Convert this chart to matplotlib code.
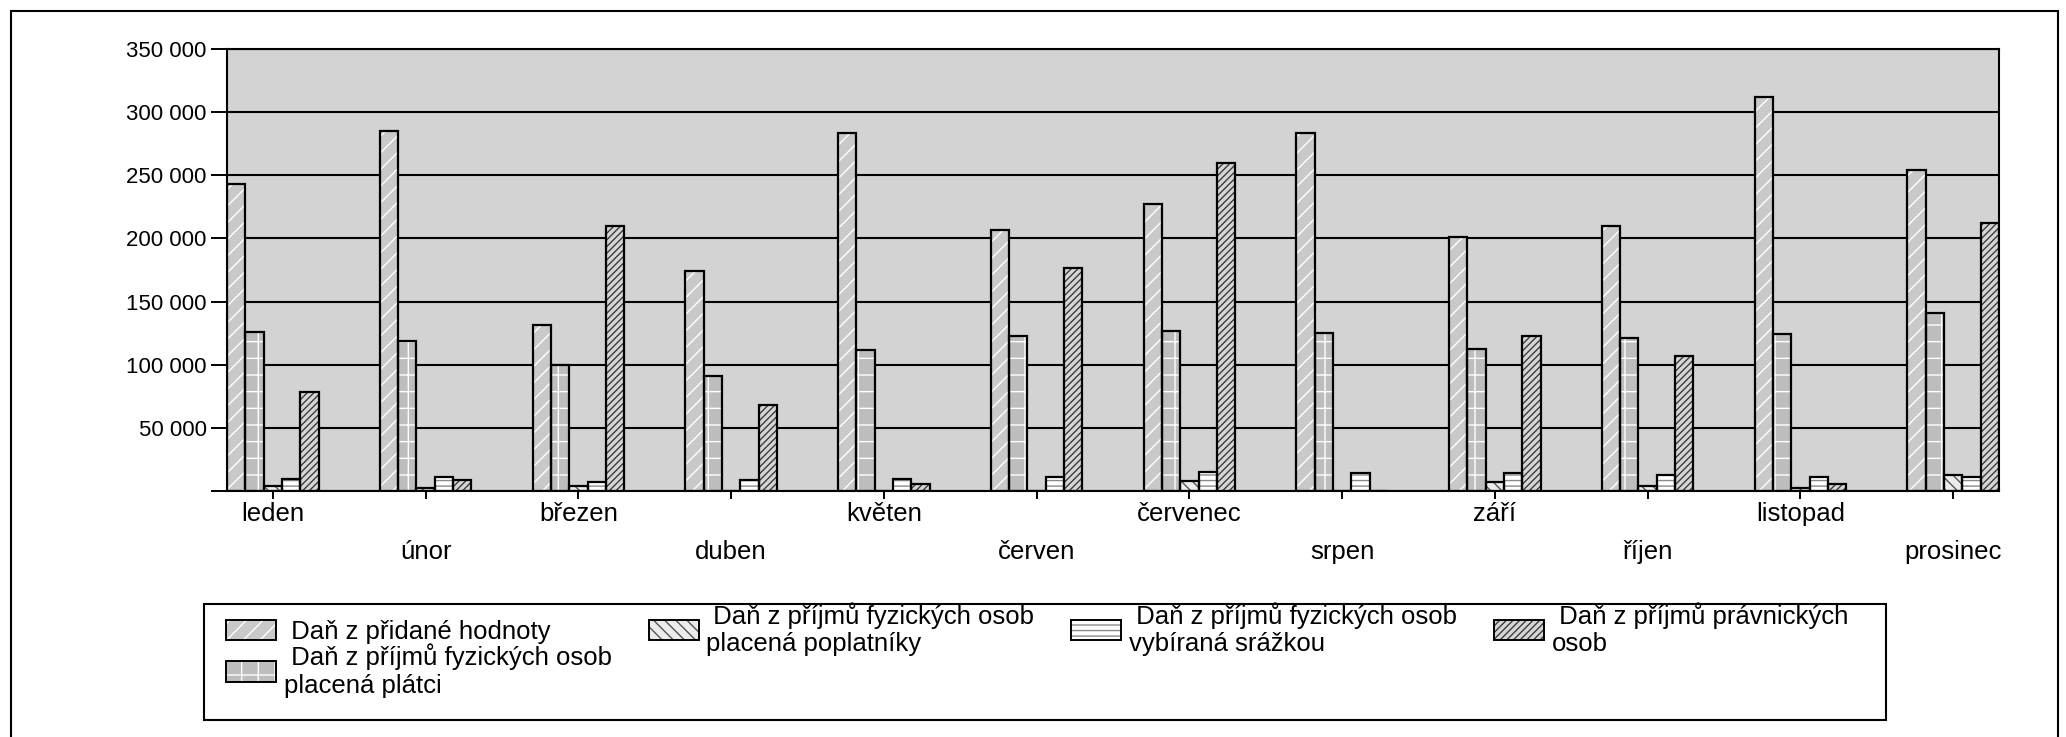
import matplotlib.pyplot as plt
import numpy as np
from matplotlib.patches import Rectangle
from matplotlib.ticker import FuncFormatter

plt.rcParams["font.family"] = ["Liberation Sans", "DejaVu Sans"]
plt.rcParams["hatch.linewidth"] = 1.0

months = ["leden", "únor", "březen", "duben", "květen", "červen",
          "červenec", "srpen", "září", "říjen", "listopad", "prosinec"]

# values in thousands CZK
dph = [243000, 285400, 131200, 174200, 283700, 206600,
       227000, 283700, 201100, 209600, 312200, 253900]
fo_platci = [125700, 118500, 99500, 91000, 111400, 122800,
             126900, 125400, 112400, 121100, 124000, 141200]
fo_poplatnici = [4000, 2600, 4000, 0, 0, 0,
                 8200, 0, 7400, 4200, 2400, 12400]
fo_srazkou = [9800, 11100, 6900, 8400, 9800, 11300,
              15300, 14000, 14000, 12400, 11000, 11300]
po = [78400, 8400, 209600, 68400, 5500, 176800,
      259400, 0, 122700, 106900, 5300, 212500]

series_labels = [
    " Daň z přidané hodnoty",
    " Daň z příjmů fyzických osob\nplacená plátci",
    " Daň z příjmů fyzických osob\nplacená poplatníky",
    " Daň z příjmů fyzických osob\nvybíraná srážkou",
    " Daň z příjmů právnických\nosob",
]

# face colour, hatch, hatch colour
styles = [
    ("#c9c9c9", "//", "white"),
    ("#bdbdbd", "+", "white"),
    ("#ececec", "\\\\\\", "#555555"),
    ("#ffffff", "---", "#8a8a8a"),
    ("#d6d6d6", "/////", "#3c3c3c"),
]

fig = plt.figure(figsize=(20.66, 7.37), dpi=100)
ax = fig.add_axes([227 / 2066, 246 / 737, 1772 / 2066, 442 / 737])
ax.set_facecolor("#d3d3d3")

x = np.arange(len(months))
w = 0.12
handles = []
for i, vals in enumerate([dph, fo_platci, fo_poplatnici, fo_srazkou, po]):
    face, hatch, hcol = styles[i]
    pos = x + (i - 2) * w
    ax.bar(pos, vals, w, color=face, hatch=hatch, edgecolor=hcol,
           linewidth=0, zorder=2)
    ax.bar(pos, vals, w, fill=False, edgecolor="black", linewidth=1.6,
           zorder=3)
    h1 = Rectangle((0, 0), 1, 1, facecolor=face, hatch=hatch,
                   edgecolor=hcol, linewidth=0)
    h2 = Rectangle((0, 0), 1, 1, fill=False, edgecolor="black",
                   linewidth=1.4)
    handles.append((h1, h2))

ax.set_xlim(-0.3, 11.3)
ax.set_ylim(0, 350000)
ax.set_yticks(np.arange(0, 350001, 50000))
ax.yaxis.set_major_formatter(
    FuncFormatter(lambda v, p: "" if v == 0 else f"{int(v):,}".replace(",", " ")))
ax.yaxis.grid(True, color="black", linewidth=1.5)
ax.set_axisbelow(True)

ax.set_xticks(x[::2])
ax.set_xticklabels(months[::2])
ax.set_xticks(x[1::2], minor=True)
ax.set_xticklabels(months[1::2], minor=True)

ax.tick_params(axis="y", length=11.5, width=1.4, pad=3, labelsize=16)
ax.tick_params(axis="x", which="both", length=5.5, width=1.4,
               labelsize=18.5)
ax.tick_params(axis="x", which="major", pad=2.5)
ax.tick_params(axis="x", which="minor", pad=30)
for s in ax.spines.values():
    s.set_color("black")
    s.set_linewidth(1.5)

# outer frame
fig.patches.append(Rectangle((11 / 2066, -0.05), 2047 / 2066, 726 / 737 + 0.05,
                             transform=fig.transFigure, fill=False,
                             edgecolor="black", linewidth=1.5))

# legend box
lx0, lx1 = 204 / 2066, 1886 / 2066
ly0, ly1 = 17 / 737, 133 / 737
fig.patches.append(Rectangle((lx0, ly0), lx1 - lx0, ly1 - ly0,
                             transform=fig.transFigure, fill=False,
                             edgecolor="black", linewidth=1.5))
top = (737 - 602) / 737
fig.legend(handles, series_labels, ncol=4, loc="upper left",
           bbox_to_anchor=(226 / 2066, 0.03, 1622 / 2066, top - 0.03),
           mode="expand", frameon=False, fontsize=18.5,
           handlelength=1.95, handleheight=0.85, handletextpad=0.3,
           labelspacing=0.0, borderaxespad=0, borderpad=0)

fig.savefig("out.png", dpi=100)
